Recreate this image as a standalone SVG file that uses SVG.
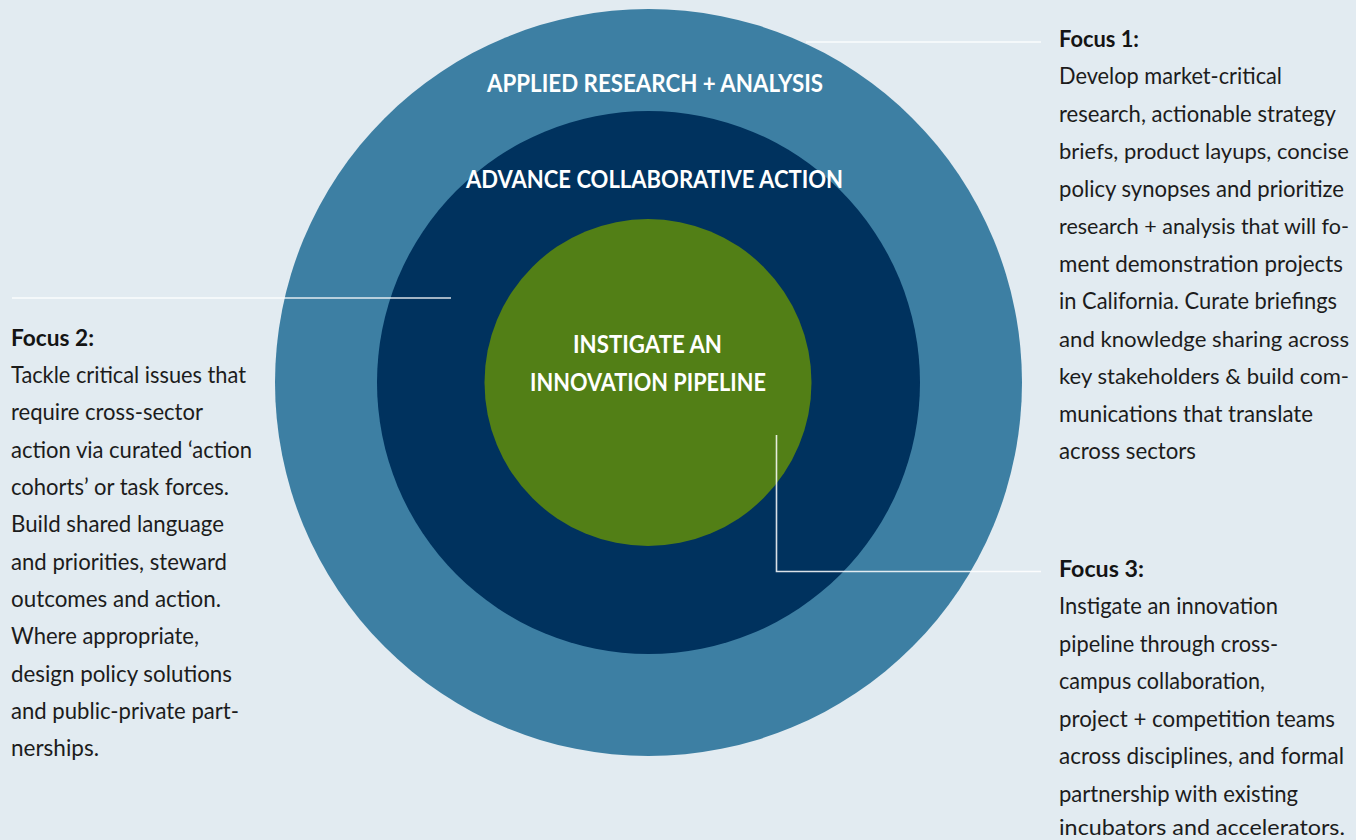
<svg xmlns="http://www.w3.org/2000/svg" width="1356" height="840" viewBox="0 0 1356 840">
  <style>
    .ring-label { font-family: Lato, "Open Sans", sans-serif; font-weight: 700; font-size: 24px; fill: #ffffff; text-anchor: middle; }
    .focus-title { font-family: Lato, "Open Sans", sans-serif; font-weight: 700; font-size: 23px; fill: #141414; }
    .focus-body { font-family: Lato, "Open Sans", sans-serif; font-weight: 400; font-size: 23px; fill: #1c1c1c; }
    .focus-body.tight { font-size: 22px; }
    .leader { fill: none; stroke: #ffffff; stroke-opacity: 0.85; stroke-width: 1.6; }
  </style>

  <rect width="1356" height="840" fill="#e2ebf1"/>

  <!-- concentric rings -->
  <g id="ring-research">
    <circle cx="648.5" cy="382.5" r="373.5" fill="#3d7fa3"/>
    <text class="ring-label" x="655" y="92" textLength="336" lengthAdjust="spacingAndGlyphs">APPLIED RESEARCH + ANALYSIS</text>
  </g>
  <g id="ring-collaboration">
    <circle cx="648.5" cy="382.5" r="271.5" fill="#00325e"/>
    <text class="ring-label" x="654.5" y="188" textLength="377" lengthAdjust="spacingAndGlyphs">ADVANCE COLLABORATIVE ACTION</text>
  </g>
  <g id="ring-pipeline">
    <circle cx="648" cy="382.5" r="163.5" fill="#527f16"/>
    <text class="ring-label" x="647.5" y="353" textLength="149" lengthAdjust="spacingAndGlyphs">INSTIGATE AN</text>
    <text class="ring-label" x="648" y="391" textLength="236" lengthAdjust="spacingAndGlyphs">INNOVATION PIPELINE</text>
  </g>

  <!-- leader lines -->
  <g id="connectors">
    <line class="leader" x1="806" y1="42" x2="1041" y2="42"/>
    <line class="leader" x1="12" y1="298" x2="451" y2="298"/>
    <polyline class="leader" points="776.5,435 776.5,571.5 1041,571.5"/>
  </g>

  <!-- Focus 1 -->
  <g id="focus-1">
    <text class="focus-title" x="1059" y="47" textLength="80" lengthAdjust="spacingAndGlyphs">Focus 1:</text>
    <text class="focus-body" x="1059" y="84" textLength="223" lengthAdjust="spacingAndGlyphs">Develop market-critical</text>
    <text class="focus-body" x="1059" y="121.5" textLength="277" lengthAdjust="spacingAndGlyphs">research, actionable strategy</text>
    <text class="focus-body tight" x="1059" y="159" textLength="290" lengthAdjust="spacingAndGlyphs">briefs, product layups, concise</text>
    <text class="focus-body" x="1059" y="196.5" textLength="285" lengthAdjust="spacingAndGlyphs">policy synopses and prioritize</text>
    <text class="focus-body tight" x="1059" y="234" textLength="290" lengthAdjust="spacingAndGlyphs">research + analysis that will fo-</text>
    <text class="focus-body" x="1059" y="271.5" textLength="284" lengthAdjust="spacingAndGlyphs">ment demonstration projects</text>
    <text class="focus-body" x="1059" y="309" textLength="278" lengthAdjust="spacingAndGlyphs">in California. Curate briefings</text>
    <text class="focus-body tight" x="1059" y="346.5" textLength="290" lengthAdjust="spacingAndGlyphs">and knowledge sharing across</text>
    <text class="focus-body tight" x="1059" y="384" textLength="290" lengthAdjust="spacingAndGlyphs">key stakeholders &amp; build com-</text>
    <text class="focus-body" x="1059" y="421.5" textLength="254" lengthAdjust="spacingAndGlyphs">munications that translate</text>
    <text class="focus-body" x="1059" y="459" textLength="137" lengthAdjust="spacingAndGlyphs">across sectors</text>
  </g>

  <!-- Focus 2 -->
  <g id="focus-2">
    <text class="focus-title" x="11" y="346" textLength="83" lengthAdjust="spacingAndGlyphs">Focus 2:</text>
    <text class="focus-body" x="11" y="383" textLength="235" lengthAdjust="spacingAndGlyphs">Tackle critical issues that</text>
    <text class="focus-body" x="11" y="420.3" textLength="192" lengthAdjust="spacingAndGlyphs">require cross-sector</text>
    <text class="focus-body" x="11" y="457.6" textLength="241" lengthAdjust="spacingAndGlyphs">action via curated ‘action</text>
    <text class="focus-body" x="11" y="495" textLength="218" lengthAdjust="spacingAndGlyphs">cohorts’ or task forces.</text>
    <text class="focus-body" x="11" y="532.3" textLength="213" lengthAdjust="spacingAndGlyphs">Build shared language</text>
    <text class="focus-body" x="11" y="569.6" textLength="216" lengthAdjust="spacingAndGlyphs">and priorities, steward</text>
    <text class="focus-body" x="11" y="607" textLength="210" lengthAdjust="spacingAndGlyphs">outcomes and action.</text>
    <text class="focus-body" x="11" y="644.3" textLength="188" lengthAdjust="spacingAndGlyphs">Where appropriate,</text>
    <text class="focus-body" x="11" y="681.6" textLength="221" lengthAdjust="spacingAndGlyphs">design policy solutions</text>
    <text class="focus-body" x="11" y="719" textLength="228" lengthAdjust="spacingAndGlyphs">and public-private part-</text>
    <text class="focus-body" x="11" y="756.3" textLength="88" lengthAdjust="spacingAndGlyphs">nerships.</text>
  </g>

  <!-- Focus 3 -->
  <g id="focus-3">
    <text class="focus-title" x="1059" y="577" textLength="85" lengthAdjust="spacingAndGlyphs">Focus 3:</text>
    <text class="focus-body" x="1059" y="614" textLength="219" lengthAdjust="spacingAndGlyphs">Instigate an innovation</text>
    <text class="focus-body" x="1059" y="651.5" textLength="219" lengthAdjust="spacingAndGlyphs">pipeline through cross-</text>
    <text class="focus-body" x="1059" y="689" textLength="206" lengthAdjust="spacingAndGlyphs">campus collaboration,</text>
    <text class="focus-body" x="1059" y="726.5" textLength="276" lengthAdjust="spacingAndGlyphs">project + competition teams</text>
    <text class="focus-body" x="1059" y="764" textLength="285" lengthAdjust="spacingAndGlyphs">across disciplines, and formal</text>
    <text class="focus-body" x="1059" y="801.5" textLength="239" lengthAdjust="spacingAndGlyphs">partnership with existing</text>
    <text class="focus-body tight" x="1059" y="835" textLength="286" lengthAdjust="spacingAndGlyphs">incubators and accelerators.</text>
  </g>
</svg>
